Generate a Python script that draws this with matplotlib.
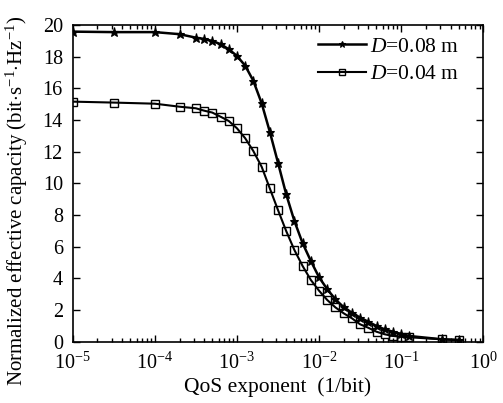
import matplotlib
matplotlib.use("Agg")
import math
import matplotlib.pyplot as plt
from matplotlib.ticker import FixedLocator, LogLocator, NullFormatter, FuncFormatter

plt.rcParams['font.family'] = ['Liberation Serif', 'DejaVu Serif']
plt.rcParams['mathtext.fontset'] = 'custom'
plt.rcParams['mathtext.rm'] = 'Liberation Serif'
plt.rcParams['mathtext.it'] = 'Liberation Serif:italic'
plt.rcParams['mathtext.bf'] = 'Liberation Serif:bold'

# QoS exponent values (1/bit)
qos = [1e-5, 3.16e-5, 1e-4, 2e-4, 3.16e-4, 3.98e-4, 5.01e-4, 6.31e-4, 7.94e-4,
       1e-3, 1.26e-3, 1.58e-3, 2e-3, 2.51e-3, 3.16e-3, 3.98e-3, 5.01e-3,
       6.31e-3, 7.94e-3, 1e-2, 1.26e-2, 1.58e-2, 2e-2, 2.51e-2, 3.16e-2,
       3.98e-2, 5.01e-2, 6.31e-2, 7.94e-2, 0.1, 0.126, 0.316, 0.5]

cap_d008 = [19.58, 19.55, 19.55, 19.42, 19.20, 19.12, 18.99, 18.79, 18.47,
            18.05, 17.43, 16.49, 15.06, 13.27, 11.31, 9.31, 7.62,
            6.22, 5.10, 4.07, 3.31, 2.68, 2.17, 1.83, 1.52,
            1.26, 0.99, 0.78, 0.63, 0.49, 0.36, 0.15, 0.11]

cap_d004 = [15.16, 15.10, 15.03, 14.84, 14.74, 14.59, 14.47, 14.21, 13.94,
            13.48, 12.85, 12.05, 11.05, 9.69, 8.32, 6.99, 5.79,
            4.78, 3.90, 3.22, 2.63, 2.17, 1.79, 1.48, 1.10,
            0.88, 0.63, 0.47, 0.36, 0.32, 0.28, 0.15, 0.11]

labels = [r'$D$=0.08 m', r'$D$=0.04 m']
yticks = [0, 2, 4, 6, 8, 10, 12, 14, 16, 18, 20]

fig = plt.figure(figsize=(5.03, 4.03), dpi=100)
ax = fig.add_axes([0.1445, 0.1521, 0.8163, 0.7859])

ax.plot(qos, cap_d008, color='black', lw=1.8, marker='*', ms=6.5,
        mfc='black', mec='black', mew=0.8, label=labels[0])
ax.plot(qos, cap_d004, color='black', lw=1.5, marker='s', ms=6,
        mfc='none', mec='black', mew=1.0, label=labels[1])

ax.set_xscale('log')
ax.set_xlim(1e-5, 1)
ax.set_ylim(0, 20)
ax.yaxis.set_major_locator(FixedLocator(yticks))
ax.xaxis.set_major_locator(LogLocator(base=10, numticks=10))
ax.xaxis.set_minor_locator(LogLocator(base=10, subs=range(2, 10), numticks=20))
ax.xaxis.set_minor_formatter(NullFormatter())

def fmt(v, pos):
    e = int(round(math.log10(v)))
    return r'10$^{\mathregular{%d}}$' % e

ax.xaxis.set_major_formatter(FuncFormatter(fmt))

ax.tick_params(axis='both', which='both', direction='in', top=True, right=True,
               labelsize=14.5, width=1)
ax.tick_params(axis='both', which='major', length=5)
ax.tick_params(axis='both', which='minor', length=3)
ax.tick_params(axis='x', which='major', pad=8)
ax.tick_params(axis='y', which='major', pad=7)
for s in ax.spines.values():
    s.set_linewidth(1.2)

ax.set_xlabel('QoS exponent  (1/bit)', fontsize=15.5, labelpad=2)
ax.set_ylabel(r'Normalized effective capacity (bit$\cdot$s$^{\mathregular{-1}}$$\cdot$Hz$^{\mathregular{-1}}$)',
              fontsize=15, va='center')
ax.yaxis.set_label_coords(-0.136, 0.444)

leg = ax.legend(loc='upper right', frameon=False, fontsize=15.5, handlelength=2.2,
                handletextpad=0.2, labelspacing=0.35, borderaxespad=0.15,
                bbox_to_anchor=(0.97, 1.0), markerscale=0.7)

fig.savefig('out.png', dpi=100)
